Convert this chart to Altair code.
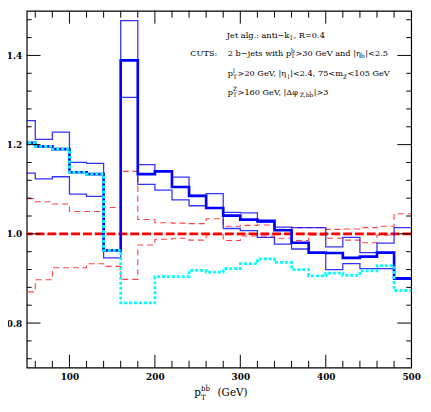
import altair as alt
import pandas as pd

# ---- data ----
edges = [40, 60, 80, 100, 120, 140, 160, 180, 200, 220, 240, 260, 280, 300,
         320, 340, 360, 380, 400, 420, 440, 460, 480, 500]
central = [1.204, 1.196, 1.190, 1.138, 1.134, 0.963, 1.389, 1.134, 1.140, 1.105,
           1.085, 1.058, 1.041, 1.032, 1.029, 1.008, 0.980, 0.958, 0.957, 0.946,
           0.949, 0.958, 0.900]
upper = [1.254, 1.212, 1.228, 1.160, 1.158, 0.964, 1.478, 1.155, 1.141, 1.127,
         1.086, 1.090, 1.048, 1.047, 1.026, 1.015, 1.014, 1.014, 0.971, 0.992,
         0.958, 0.979, 1.014]
lower = [1.136, 1.123, 1.128, 1.089, 1.084, 0.946, 1.306, 1.111, 1.098, 1.076,
         1.063, 1.058, 1.012, 1.007, 0.992, 0.977, 0.966, 0.958, 0.920, 0.933,
         0.922, 0.922, 0.898]
red_up = [1.079, 1.072, 1.067, 1.050, 1.050, 1.059, 1.140, 1.032, 1.025, 1.024,
          1.023, 1.034, 1.017, 1.019, 1.020, 1.010, 1.014, 1.014, 1.010, 1.011,
          1.014, 1.017, 1.045]
red_lo = [0.870, 0.897, 0.924, 0.924, 0.933, 0.927, 0.898, 0.975, 0.988, 0.990,
          0.986, 0.998, 0.985, 0.995, 0.995, 0.990, 0.985, 0.997, 0.990, 0.986,
          0.980, 0.997, 0.999]
cyan = [1.204, 1.196, 1.190, 1.138, 1.134, 0.963, 0.845, 0.845, 0.904, 0.904,
        0.918, 0.914, 0.922, 0.933, 0.944, 0.936, 0.920, 0.906, 0.912, 0.907,
        0.917, 0.929, 0.873]
reference_level = [1.0]

x_labels = [100, 200, 300, 400, 500]
y_labels = [0.8, 1.0, 1.2, 1.4]
x_major_ticks = [100, 200, 300, 400]
y_major_ticks = [0.8, 1.0, 1.2, 1.4]

X_DOMAIN = [50, 500]
Y_DOMAIN = [0.7, 1.5]

# ---- layout ----
W, H = 390, 362
LABEL_FONT = "DejaVu Serif"
TEXT_FONT = "DejaVu Serif"

xs = alt.Scale(domain=X_DOMAIN, nice=False, zero=False)
ys = alt.Scale(domain=Y_DOMAIN, nice=False, zero=False)

XAX = alt.Axis(values=x_labels, ticks=False, domain=False, grid=False,
               labelPadding=5, title=None, labelFont=LABEL_FONT, labelFontSize=9,
               labelFontWeight="bold", labelColor="black", labelFlush=False,
               labelOverlap=False)
YAX = alt.Axis(values=y_labels, ticks=False, domain=False, grid=False,
               labelPadding=5, title=None, labelFont=LABEL_FONT, labelFontSize=9,
               labelFontWeight="bold", labelColor="black", format=".1f",
               labelFlush=False, labelOverlap=False)


def step_layer(vals, color, width, dash=None, opacity=1.0):
    df = pd.DataFrame({"x": edges, "v": list(vals) + [vals[-1]]})
    kw = dict(interpolate="step-after", color=color, strokeWidth=width,
              clip=True, opacity=opacity)
    if dash:
        kw["strokeDash"] = dash
    return alt.Chart(df).mark_line(**kw).encode(
        x=alt.X("x:Q", scale=xs, axis=XAX),
        y=alt.Y("v:Q", scale=ys, axis=YAX),
    )


layers = []
layers.append(step_layer(red_up, "#ff2020", 1.1, [6, 4], 0.85))
layers.append(step_layer(red_lo, "#ff2020", 1.1, [6, 4], 0.85))
layers.append(
    alt.Chart(pd.DataFrame({"v": reference_level})).mark_rule(
        color="#ff0000", strokeWidth=2.6, strokeDash=[9, 3]
    ).encode(y=alt.Y("v:Q", scale=ys, axis=YAX))
)
layers.append(step_layer(upper, "#0000ff", 1.3, None, 0.8))
layers.append(step_layer(lower, "#0000ff", 1.3, None, 0.8))
layers.append(step_layer(central, "#0000ff", 2.7))
layers.append(step_layer(cyan, "#00ffff", 2.8, [3, 2]))

# ---- inward ticks on all four sides ----
x_minor = [v for v in range(60, 500, 20) if v not in x_major_ticks]
y_minor = [round(0.72 + 0.04 * i, 2) for i in range(20)]
y_minor = [v for v in y_minor if v not in y_major_ticks]


def xticks(vals, length):
    df = pd.DataFrame({"v": vals})
    base = alt.Chart(df).mark_rule(color="black", strokeWidth=1)
    return [
        base.encode(x=alt.X("v:Q", scale=xs, axis=XAX), y=alt.value(H), y2=alt.value(H - length)),
        base.encode(x=alt.X("v:Q", scale=xs, axis=XAX), y=alt.value(0), y2=alt.value(length)),
    ]


def yticks(vals, length):
    df = pd.DataFrame({"v": vals})
    base = alt.Chart(df).mark_rule(color="black", strokeWidth=1)
    return [
        base.encode(y=alt.Y("v:Q", scale=ys, axis=YAX), x=alt.value(0), x2=alt.value(length)),
        base.encode(y=alt.Y("v:Q", scale=ys, axis=YAX), x=alt.value(W), x2=alt.value(W - length)),
    ]


layers += xticks(x_minor, 7) + xticks(x_major_ticks, 13)
layers += yticks(y_minor, 5) + yticks(y_major_ticks, 14)

# ---- rich text helpers (sub/superscripts as separate text pieces) ----
EM = {
    " ": 0.318, ".": 0.318, ",": 0.318, ":": 0.337, "|": 0.337, "<": 0.838,
    ">": 0.838, "=": 0.838, "\u2212": 0.838, "(": 0.39, ")": 0.39,
    "a": 0.596, "b": 0.64, "c": 0.56, "d": 0.64, "e": 0.592, "f": 0.37,
    "g": 0.64, "h": 0.644, "i": 0.32, "j": 0.31, "k": 0.61, "l": 0.32,
    "m": 0.948, "n": 0.644, "o": 0.602, "p": 0.64, "r": 0.478, "s": 0.513,
    "t": 0.402, "u": 0.644, "v": 0.565, "w": 0.832, "x": 0.58, "y": 0.565,
    "z": 0.523, "C": 0.734, "G": 0.775, "J": 0.372, "R": 0.735, "S": 0.646,
    "T": 0.667, "U": 0.791, "V": 0.722, "Z": 0.667, "\u03b7": 0.64,
    "\u0394": 0.72, "\u03c6": 0.78, "\u0304": 0.0,
}


def text_width(s, size):
    return sum(EM.get(ch, 0.636) for ch in s) * size


def rich_line(segments, x0, y0, size, small, dsup, dsub, gap=0.6):
    out = []
    x = x0
    for main, sub, sup in segments:
        if main:
            stripped = main.lstrip(" ")
            x += text_width(main[: len(main) - len(stripped)], size)
            out.append((stripped, x, y0, size))
            x += text_width(stripped, size)
        adv = 0
        if sub:
            out.append((sub, x, y0 + dsub, small))
            adv = max(adv, text_width(sub, small))
        if sup:
            out.append((sup, x, y0 - dsup, small))
            adv = max(adv, text_width(sup, small))
        if adv:
            x += adv + gap
    return out


FS, FSS = 8.3, 5.9
pieces = []
pieces += rich_line([("Jet alg.: anti\u2212k", "T", ""), (", R=0.4", "", "")],
                    203, 27.5, FS, FSS, 3.2, 2.3)
pieces += rich_line([("CUTS:", "", "")], 166, 46, FS, FSS, 3.2, 2.3)
pieces += rich_line([("2 b\u2212jets with p", "T", "b"), (">30 GeV and |\u03b7", "b", ""),
                     ("|<2.5", "", "")], 204, 46, FS, FSS, 3.2, 2.3)
pieces += rich_line([("p", "T", "l"), (">20 GeV, |\u03b7", "l", ""),
                     ("|<2.4, 75<m", "Z", ""), ("<105 GeV", "", "")],
                    204, 66.5, FS, FSS, 3.2, 2.3)
pieces += rich_line([("p", "T", "Z"), (">160 GeV, |\u0394\u03c6", "Z,bb\u0304", ""),
                     ("|>3", "", "")], 204, 85, FS, FSS, 3.2, 2.3)
# x-axis title
pieces += rich_line([("p", "T", "bb\u0304"), ("  (GeV)", "", "")],
                    170, 391, 10.5, 7.2, 5.0, 3.8, gap=1.0)

one = pd.DataFrame({"a": [0]})
for s, px, py, size in pieces:
    layers.append(
        alt.Chart(one).mark_text(
            align="left", baseline="alphabetic", font=TEXT_FONT,
            fontSize=size, color="black"
        ).encode(x=alt.value(px), y=alt.value(py), text=alt.value(s))
    )

chart = alt.layer(*layers).properties(
    width=W, height=H,
    autosize=alt.AutoSizeParams(type="none"),
    padding={"left": 19, "top": 0, "right": 12, "bottom": 34},
).configure_view(stroke="black", strokeWidth=1.2)

chart.save("out.html", embed_options={"renderer": "svg", "actions": False})
